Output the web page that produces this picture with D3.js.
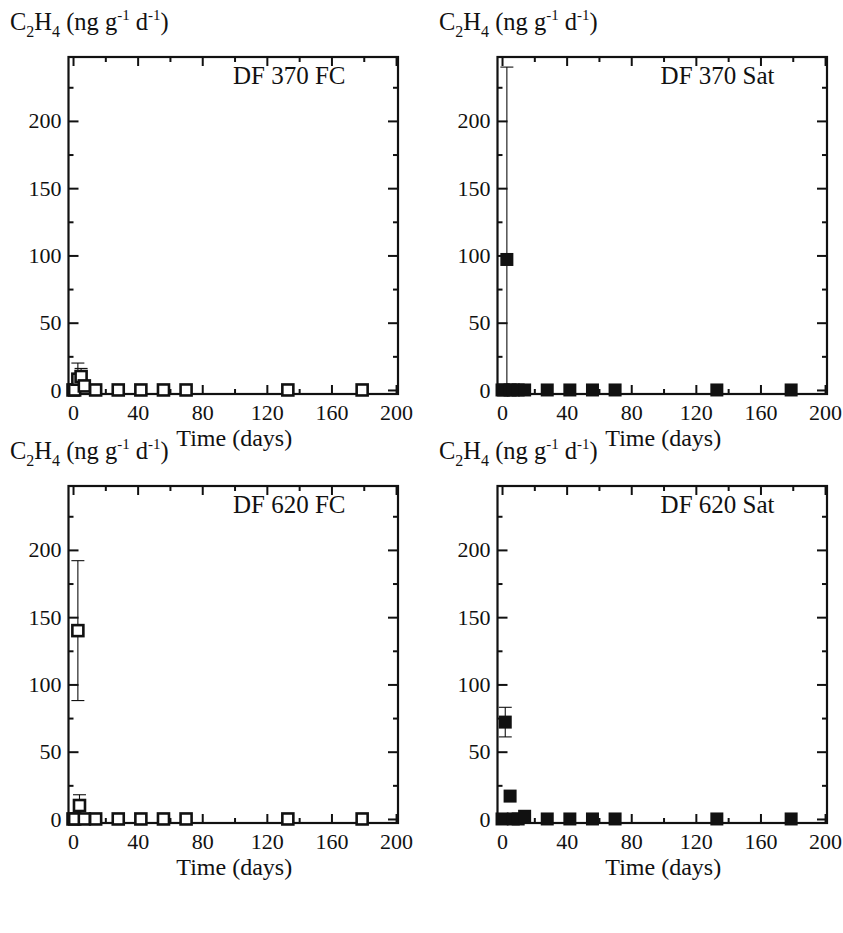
<!DOCTYPE html>
<html><head><meta charset="utf-8">
<script src="https://cdn.jsdelivr.net/npm/d3@7"></script>
<style>body{margin:0;background:#fff}svg{display:block}text{font-family:"Liberation Serif","Times New Roman",serif;fill:#111}</style>
</head><body><div id="c"></div>
<script>
const panelTitles = ["DF 370 FC", "DF 370 Sat", "DF 620 FC", "DF 620 Sat"];
const filled = [false, true, false, true];
const daysFC370 = [0, 1, 3, 5, 7, 14, 28, 42, 56, 70, 133, 179];
const valsFC370 = [0, 0, 8, 10, 3, 0, 0, 0, 0, 0, 0, 0];
const errsFC370 = [0, 0, 12, 6, 1, 0, 0, 0, 0, 0, 0, 0];
const daysSat370 = [0, 1, 3, 5, 7, 10, 14, 28, 42, 56, 70, 133, 179];
const valsSat370 = [0, 0, 97, 0, 0, 0, 0, 0, 0, 0, 0, 0, 0];
const errsSat370 = [0, 0, 143, 0, 0, 0, 0, 0, 0, 0, 0, 0, 0];
const daysFC620 = [0, 1, 3, 4, 7, 14, 28, 42, 56, 70, 133, 179];
const valsFC620 = [0, 0, 140, 10, 0, 0, 0, 0, 0, 0, 0, 0];
const errsFC620 = [0, 0, 52, 8, 0, 0, 0, 0, 0, 0, 0, 0];
const daysSat620 = [0, 2, 5, 7, 10, 14, 28, 42, 56, 70, 133, 179];
const valsSat620 = [0, 72, 17, 0, 0, 2, 0, 0, 0, 0, 0, 0];
const errsSat620 = [0, 11, 0, 0, 0, 0, 0, 0, 0, 0, 0, 0];
const xMajor = [0, 40, 80, 120, 160, 200];
const xMinor = [20, 60, 100, 140, 180];
const yMajor = [0, 50, 100, 150, 200];
const yMinor = [25, 75, 125, 175, 225];

const panels = [
  {days: daysFC370, vals: valsFC370, errs: errsFC370},
  {days: daysSat370, vals: valsSat370, errs: errsSat370},
  {days: daysFC620, vals: valsFC620, errs: errsFC620},
  {days: daysSat620, vals: valsSat620, errs: errsSat620}
];

const W = 843, H = 933;
const svg = d3.select("#c").append("svg").attr("width", W).attr("height", H);
const pw = 329.5, ph = 337;
const offsets = [[68.5, 57], [497.5, 57], [68.5, 486], [497.5, 486]];

panels.forEach((p, i) => {
  const [ox, oy] = offsets[i];
  const g = svg.append("g").attr("transform", `translate(${ox},${oy})`);
  const x = d3.scaleLinear().domain([-2.8, 201.2]).range([0, pw]);
  const y = d3.scaleLinear().domain([-3, 247.5]).range([ph, 0]);

  g.append("g").attr("transform", `translate(0,${ph})`)
    .call(d3.axisBottom(x).tickValues(xMajor).tickSize(-9).tickPadding(10).tickFormat(d3.format("d")));
  g.append("g").attr("transform", `translate(0,${ph})`)
    .call(d3.axisBottom(x).tickValues(xMinor).tickSize(-5).tickFormat(""));
  g.append("g").call(d3.axisTop(x).tickValues(xMajor).tickSize(-9).tickFormat(""));
  g.append("g").call(d3.axisTop(x).tickValues(xMinor).tickSize(-5).tickFormat(""));
  g.append("g")
    .call(d3.axisLeft(y).tickValues(yMajor).tickSize(-10).tickPadding(7).tickFormat(d3.format("d")));
  g.append("g").call(d3.axisLeft(y).tickValues(yMinor).tickSize(-5).tickFormat(""));
  g.append("g").attr("transform", `translate(${pw},0)`)
    .call(d3.axisRight(y).tickValues(yMajor).tickSize(-10).tickFormat(""));
  g.append("g").attr("transform", `translate(${pw},0)`)
    .call(d3.axisRight(y).tickValues(yMinor).tickSize(-5).tickFormat(""));
  g.selectAll(".domain").remove();
  g.selectAll(".tick line").attr("stroke", "#111").attr("stroke-width", 2);
  g.selectAll(".tick text").style("font-family", '"Liberation Serif",serif').style("font-size", "22px").attr("fill", "#111");
  g.append("rect").attr("x", 0).attr("y", 0).attr("width", pw).attr("height", ph)
    .attr("fill", "none").attr("stroke", "#111").attr("stroke-width", 2.2);

  const data = p.days.map((d, k) => ({d, v: p.vals[k], e: p.errs[k]}));
  const eb = g.append("g").attr("stroke", "#111").attr("stroke-width", 1.1);
  data.filter(o => o.e > 0).forEach(o => {
    const cx = x(o.d), y1 = y(o.v + o.e), y0 = y(Math.max(o.v - o.e, 0));
    eb.append("line").attr("x1", cx).attr("x2", cx).attr("y1", y1).attr("y2", y0);
    eb.append("line").attr("x1", cx - 6.5).attr("x2", cx + 6.5).attr("y1", y1).attr("y2", y1);
    if (o.v - o.e > 0) eb.append("line").attr("x1", cx - 6.5).attr("x2", cx + 6.5).attr("y1", y0).attr("y2", y0);
  });

  const s = filled[i] ? 13 : 11;
  g.append("g").selectAll("rect").data(data).join("rect")
    .attr("x", o => x(o.d) - s / 2).attr("y", o => y(o.v) - s / 2)
    .attr("width", s).attr("height", s)
    .attr("fill", filled[i] ? "#111" : "#fff")
    .attr("stroke", "#111").attr("stroke-width", filled[i] ? 0 : 2.6);

  g.append("text").attr("x", 277).attr("y", 27).attr("text-anchor", "end")
    .style("font-size", "25px").text(panelTitles[i]);

  g.append("text").attr("x", pw / 2 + 1).attr("y", ph + 52).attr("text-anchor", "middle")
    .style("font-size", "24px").text("Time (days)");

  const yl = svg.append("text").attr("x", ox - 58.5).attr("y", oy - 27).style("font-size", "24.5px");
  yl.append("tspan").text("C");
  yl.append("tspan").attr("dy", 7).style("font-size", "16px").text("2");
  yl.append("tspan").attr("dy", -7).text("H");
  yl.append("tspan").attr("dy", 7).style("font-size", "16px").text("4");
  yl.append("tspan").attr("dy", -7).text(" (ng g");
  yl.append("tspan").attr("dy", -10).style("font-size", "15px").text("-1");
  yl.append("tspan").attr("dy", 10).text(" d");
  yl.append("tspan").attr("dy", -10).style("font-size", "15px").text("-1");
  yl.append("tspan").attr("dy", 10).text(")");
});
</script></body></html>
